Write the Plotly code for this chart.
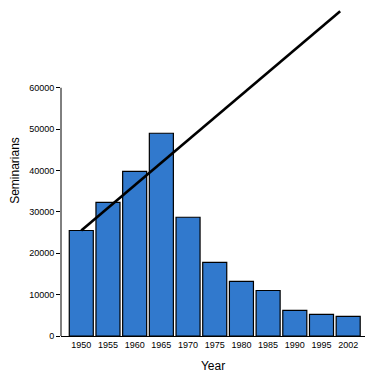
import plotly.graph_objects as go

years = ["1950", "1955", "1960", "1965", "1970", "1975", "1980", "1985", "1990", "1995", "2002"]
seminarians = [25500, 32300, 39800, 49000, 28700, 17800, 13200, 11000, 6200, 5240, 4750]
# trend line: category positions (index) and values
trend_pos = [0, 9.7]
trend_vals = [25500, 78500]
y_ticks = [0, 10000, 20000, 30000, 40000, 50000, 60000]

positions = list(range(len(years)))

fig = go.Figure()
fig.add_trace(go.Bar(
    x=positions, y=seminarians, width=0.9,
    marker=dict(color="#3179CD", line=dict(color="black", width=1.2)),
    showlegend=False,
))
fig.add_trace(go.Scatter(
    x=trend_pos, y=trend_vals, mode="lines",
    line=dict(color="black", width=2.6), showlegend=False,
))

fig.update_layout(
    width=376, height=379,
    margin=dict(l=61, r=11, t=5, b=43),
    plot_bgcolor="white", paper_bgcolor="white",
    font=dict(family="Liberation Sans, Arial, sans-serif", color="black"),
    xaxis=dict(
        range=[-0.76, 10.63], tickmode="array", tickvals=positions, ticktext=years,
        showgrid=False, zeroline=False, showline=True, linecolor="black", linewidth=1,
        ticks="", tickfont=dict(size=9), automargin=False,
        title=dict(text="Year", font=dict(size=12), standoff=12),
    ),
    yaxis=dict(
        range=[0, 80000], tickmode="array", tickvals=y_ticks,
        ticktext=[str(v) for v in y_ticks],
        showgrid=False, zeroline=False, showline=False,
        ticks="outside", ticklen=4, tickcolor="black", tickwidth=1,
        tickfont=dict(size=9), automargin=False,
        title=dict(text="Seminarians", font=dict(size=12), standoff=6),
    ),
    shapes=[dict(type="line", xref="paper", yref="y", x0=0, x1=0, y0=0, y1=60000,
                 line=dict(color="black", width=1))],
)

fig.write_html("out.html", config={"displayModeBar": False},
               post_script="document.body.style.margin='0';")
